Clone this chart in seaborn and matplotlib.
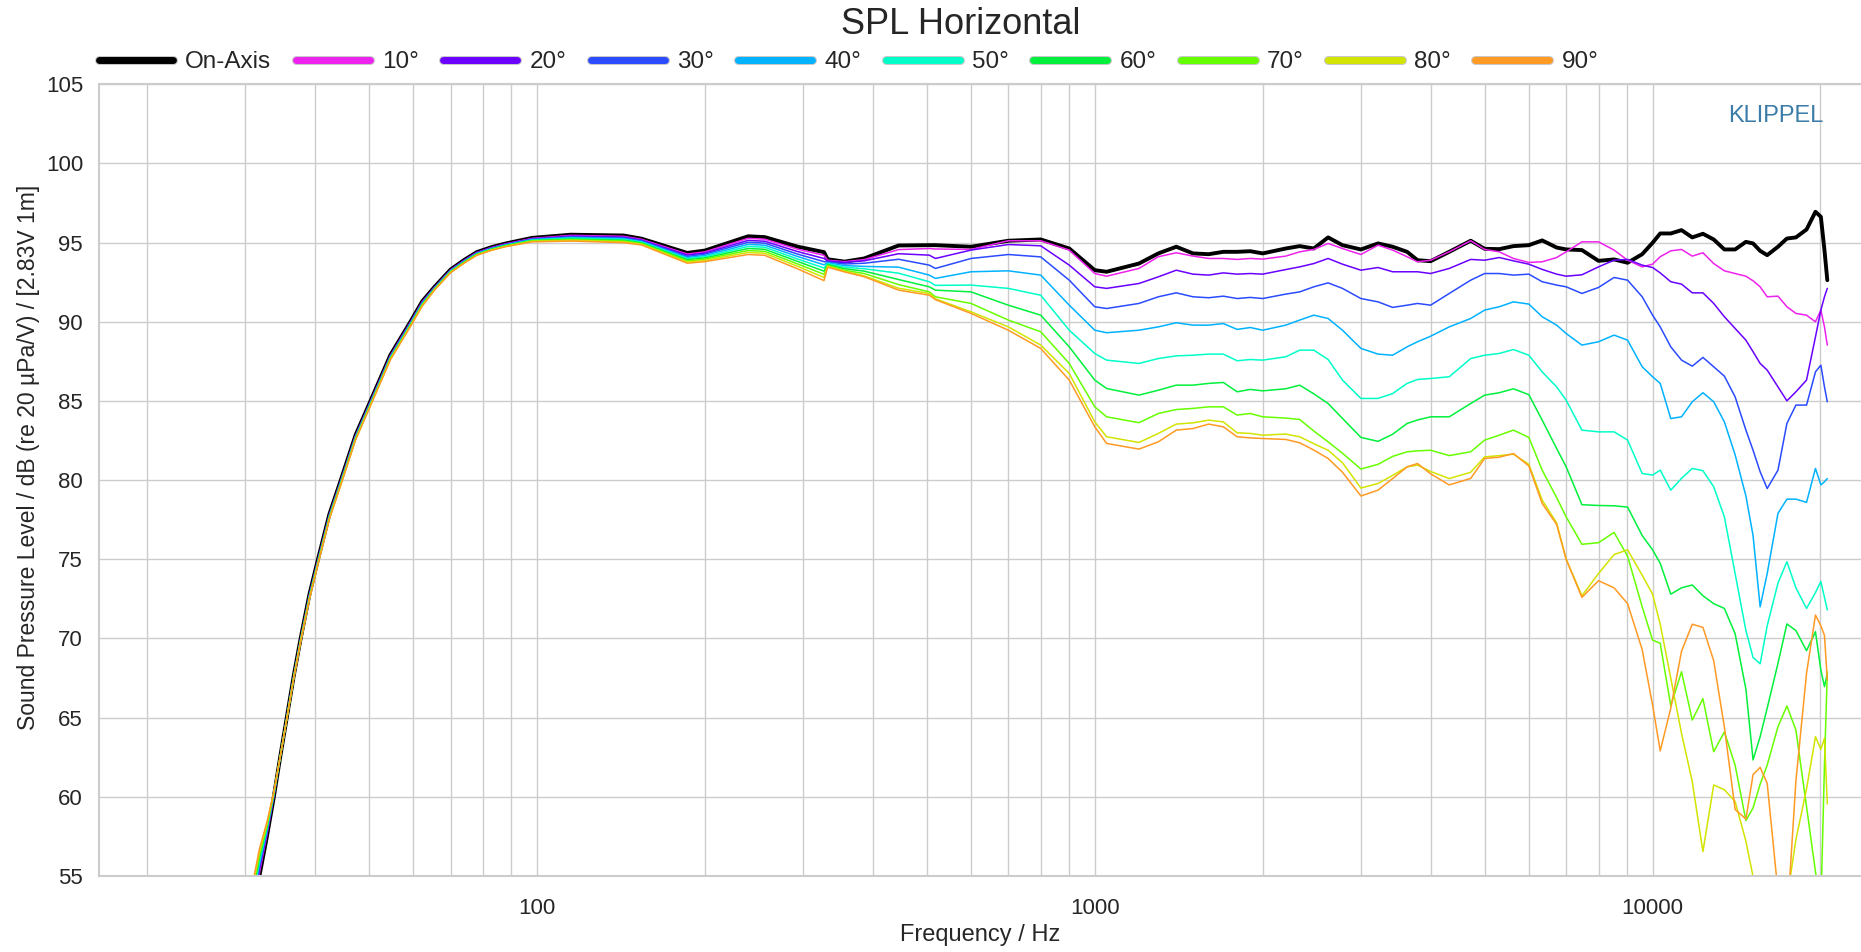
import matplotlib
matplotlib.use("Agg")
import matplotlib.pyplot as plt
import matplotlib.ticker as mticker
import matplotlib.patheffects as pe
from matplotlib.lines import Line2D
import pandas as pd
import seaborn as sns

# frequency grid (Hz), shared by all curves
freq_hz = [
    29, 31.8, 32.8, 33.75, 34.66, 35.6, 36.65, 37.7, 39.1, 40.5, 42.45, 44.5,
    47.3, 50.3, 54.6, 59.3, 62.3, 65.5, 70, 74, 78, 83, 88,
    98, 115, 143, 154, 186, 200, 239, 256, 293, 327, 332, 356, 386, 445,
    505, 518,
    600, 700, 800, 900, 1000, 1050, 1200, 1300, 1400, 1500, 1600, 1700, 1800, 1900, 2000, 2200,
    2330, 2470, 2620, 2780, 3000, 3220, 3420, 3630, 3790, 4000,
    4320, 4720, 5000, 5310, 5630, 6000, 6340, 6730, 7000, 7470,
    8000, 8530, 9020, 9580, 10000, 10320, 10780, 11270, 11780, 12310,
    12870, 13450, 14060, 14700, 15140, 15590, 16050, 16780, 17410, 18070,
    18880, 19590, 20030, 20330, 20570,
]

spl_0 = [
    47.0, 55.0, 57.5, 60.0, 62.55, 65.0, 67.67, 70.0, 72.8, 75.0, 77.85, 80.0,
    82.85, 85.0, 87.9, 90.0, 91.3, 92.2, 93.3, 93.9, 94.4, 94.72, 94.95,
    95.3, 95.5, 95.45, 95.25, 94.35, 94.5, 95.4, 95.35, 94.75, 94.4, 93.95, 93.8, 94.0, 94.82,
    94.84, 94.84,
    94.74, 95.12, 95.2, 94.63, 93.26, 93.16, 93.68, 94.32, 94.74, 94.32, 94.27, 94.42, 94.42, 94.46, 94.32, 94.63,
    94.78, 94.63, 95.33, 94.84, 94.57, 94.95, 94.74, 94.42, 93.89, 93.83,
    94.42, 95.12, 94.61, 94.59, 94.78, 94.84, 95.14, 94.69, 94.57, 94.53,
    93.85, 93.94, 93.73, 94.27, 94.99, 95.58, 95.58, 95.79, 95.33, 95.56,
    95.2, 94.57, 94.57, 95.05, 94.95, 94.48, 94.21, 94.74, 95.26, 95.33,
    95.83, 96.95, 96.63, 94.53, 92.63,
]
spl_10 = [
    47.28, 55.19, 57.6, 60.03, 62.55, 64.99, 67.65, 69.98, 72.77, 74.97, 77.82, 79.97,
    82.82, 84.97, 87.87, 89.97, 91.27, 92.18, 93.28, 93.88, 94.38, 94.7, 94.93,
    95.27, 95.46, 95.4, 95.21, 94.28, 94.42, 95.27, 95.22, 94.59, 94.2, 93.89, 93.8, 93.93, 94.56,
    94.63, 94.6,
    94.57, 95.12, 95.12, 94.53, 93.05, 92.88, 93.37, 94.11, 94.36, 94.15, 94.0, 94.0, 93.94, 94.0, 93.96, 94.15,
    94.42, 94.57, 94.95, 94.63, 94.25, 94.84, 94.53, 94.11, 93.79, 93.89,
    94.42, 95.12, 94.57, 94.42, 94.0, 93.75, 93.79, 94.06, 94.42, 95.05,
    95.05, 94.53, 93.89, 93.47, 93.64, 94.11, 94.48, 94.57, 94.15, 94.36,
    93.68, 93.22, 93.05, 92.88, 92.59, 92.21, 91.58, 91.62, 90.95, 90.53,
    90.42, 90.0, 90.74, 89.68, 88.53,
]
spl_20 = [
    47.56, 55.38, 57.7, 60.07, 62.55, 64.98, 67.64, 69.96, 72.73, 74.93, 77.78, 79.93,
    82.78, 84.93, 87.83, 89.93, 91.23, 92.16, 93.26, 93.86, 94.36, 94.68, 94.91,
    95.24, 95.41, 95.35, 95.16, 94.21, 94.34, 95.14, 95.09, 94.44, 94.0, 93.84, 93.75, 93.85, 94.3,
    94.21, 94.0,
    94.53, 94.88, 94.8, 93.58, 92.21, 92.11, 92.42, 92.84, 93.26, 93.01, 92.95, 93.09, 93.01, 93.05, 93.01, 93.3,
    93.47, 93.68, 94.0, 93.64, 93.26, 93.43, 93.16, 93.16, 93.16, 93.05,
    93.37, 93.94, 93.89, 94.06, 93.85, 93.64, 93.31, 93.01, 92.88, 92.97,
    93.47, 93.89, 93.94, 93.58, 93.43, 93.09, 92.53, 92.38, 91.83, 91.83,
    91.16, 90.32, 89.58, 88.84, 88.11, 87.37, 86.95, 85.89, 85.01, 85.58,
    86.32, 89.05, 90.74, 91.58, 92.11,
]
spl_30 = [
    47.83, 55.57, 57.8, 60.1, 62.55, 64.97, 67.62, 69.93, 72.7, 74.9, 77.75, 79.9,
    82.75, 84.9, 87.8, 89.9, 91.2, 92.13, 93.23, 93.83, 94.33, 94.65, 94.88,
    95.22, 95.37, 95.3, 95.12, 94.13, 94.27, 95.02, 94.97, 94.28, 93.8, 93.78, 93.65, 93.7, 93.95,
    93.58, 93.37,
    94.0, 94.25, 94.1, 92.63, 90.95, 90.84, 91.16, 91.58, 91.83, 91.58, 91.52, 91.62, 91.47, 91.54, 91.47, 91.75,
    91.89, 92.21, 92.46, 92.11, 91.47, 91.26, 90.91, 91.05, 91.16, 91.05,
    91.79, 92.63, 93.05, 93.05, 92.95, 93.01, 92.53, 92.32, 92.21, 91.79,
    92.17, 92.8, 92.63, 91.58, 90.42, 89.68, 88.42, 87.58, 87.2, 87.75,
    87.16, 86.57, 85.26, 83.16, 81.89, 80.53, 79.47, 80.63, 83.58, 84.74,
    84.74, 86.84, 87.26, 85.89, 84.95,
]
spl_40 = [
    48.11, 55.76, 57.9, 60.13, 62.55, 64.96, 67.6, 69.91, 72.67, 74.87, 77.72, 79.87,
    82.72, 84.87, 87.77, 89.87, 91.17, 92.11, 93.21, 93.81, 94.31, 94.63, 94.86,
    95.19, 95.32, 95.25, 95.07, 94.06, 94.19, 94.89, 94.84, 94.13, 93.6, 93.73, 93.55, 93.5, 93.45,
    92.95, 92.74,
    93.16, 93.22, 92.95, 91.05, 89.47, 89.31, 89.47, 89.68, 89.94, 89.79, 89.79, 89.89, 89.52, 89.64, 89.47, 89.79,
    90.11, 90.42, 90.21, 89.47, 88.32, 87.96, 87.89, 88.42, 88.74, 89.09,
    89.68, 90.21, 90.74, 90.95, 91.26, 91.12, 90.32, 89.79, 89.26, 88.53,
    88.74, 89.16, 88.84, 87.16, 86.53, 86.11, 83.89, 84.0, 84.95, 85.52,
    84.95, 83.68, 81.6, 79.0, 76.5, 72.0, 74.1, 77.9, 78.8, 78.8,
    78.6, 80.74, 79.7, 79.9, 80.1,
]
spl_50 = [
    48.39, 55.95, 58.0, 60.17, 62.55, 64.95, 67.59, 69.89, 72.63, 74.83, 77.68, 79.83,
    82.68, 84.83, 87.73, 89.83, 91.13, 92.09, 93.19, 93.79, 94.29, 94.61, 94.84,
    95.16, 95.28, 95.2, 95.03, 93.99, 94.11, 94.76, 94.71, 93.97, 93.4, 93.67, 93.45, 93.35, 93.07,
    92.53, 92.3,
    92.32, 92.11, 91.68, 89.47, 88.0, 87.58, 87.37, 87.68, 87.85, 87.89, 87.96, 87.96, 87.54, 87.62, 87.58, 87.79,
    88.21, 88.21, 87.62, 86.32, 85.16, 85.16, 85.47, 86.11, 86.36, 86.42,
    86.53, 87.68, 87.89, 88.0, 88.25, 87.89, 86.84, 85.89, 85.05, 83.16,
    83.05, 83.05, 82.53, 80.42, 80.32, 80.63, 79.37, 80.11, 80.74, 80.6,
    79.58, 77.68, 74.1, 70.5, 68.8, 68.4, 70.8, 73.5, 74.85, 73.2,
    71.9, 72.9, 73.6, 72.6, 71.8,
]
spl_60 = [
    48.67, 56.14, 58.1, 60.2, 62.55, 64.93, 67.57, 69.87, 72.6, 74.8, 77.65, 79.8,
    82.65, 84.8, 87.7, 89.8, 91.1, 92.07, 93.17, 93.77, 94.27, 94.59, 94.82,
    95.13, 95.23, 95.15, 94.98, 93.92, 94.03, 94.63, 94.58, 93.82, 93.2, 93.62, 93.35, 93.2, 92.67,
    92.21, 92.0,
    91.89, 91.05, 90.42, 88.42, 86.32, 85.79, 85.37, 85.68, 86.0, 86.0, 86.11, 86.17, 85.58, 85.73, 85.64, 85.77,
    86.0, 85.45, 84.84, 83.9, 82.7, 82.45, 82.9, 83.58, 83.8, 84.0,
    84.0, 84.84, 85.37, 85.52, 85.77, 85.4, 83.79, 82.0, 80.84, 78.45,
    78.4, 78.38, 78.3, 76.5, 75.6, 74.75, 72.8, 73.2, 73.38, 72.7,
    72.2, 71.9, 70.3, 66.8, 62.33, 63.8, 65.6, 68.43, 70.92, 70.5,
    69.23, 70.43, 68.0, 66.96, 67.8,
]
spl_70 = [
    48.95, 56.33, 58.2, 60.23, 62.55, 64.92, 67.55, 69.85, 72.57, 74.77, 77.62, 79.77,
    82.62, 84.77, 87.67, 89.77, 91.07, 92.04, 93.14, 93.74, 94.24, 94.56, 94.79,
    95.11, 95.19, 95.1, 94.94, 93.85, 93.96, 94.5, 94.45, 93.66, 93.0, 93.56, 93.25, 93.05, 92.35,
    91.89, 91.58,
    91.16, 90.11, 89.37, 87.37, 84.63, 84.0, 83.63, 84.21, 84.46, 84.53, 84.63, 84.63, 84.11, 84.21, 84.0, 83.92,
    83.83, 83.1, 82.42, 81.7, 80.7, 81.0, 81.5, 81.79, 81.85, 81.89,
    81.55, 81.79, 82.53, 82.84, 83.16, 82.7, 80.63, 78.9, 77.68, 75.95,
    76.05, 76.7, 75.2, 72.0, 69.9, 69.7, 65.75, 67.9, 64.85, 66.2,
    62.85, 64.1, 62.0, 58.5, 59.3, 60.8, 62.0, 64.43, 65.74, 64.22,
    59.38, 55.27, 53.0, 62.0, 67.9,
]
spl_80 = [
    49.22, 56.52, 58.3, 60.27, 62.55, 64.91, 67.53, 69.82, 72.53, 74.73, 77.58, 79.73,
    82.58, 84.73, 87.63, 89.73, 91.03, 92.02, 93.12, 93.72, 94.22, 94.54, 94.77,
    95.08, 95.14, 95.05, 94.89, 93.77, 93.88, 94.38, 94.33, 93.51, 92.8, 93.51, 93.2, 92.9, 92.12,
    91.79, 91.45,
    90.63, 89.68, 88.53, 86.74, 83.68, 82.74, 82.38, 82.95, 83.54, 83.62, 83.79, 83.68, 82.99, 82.95, 82.84, 82.91,
    82.74, 82.3, 81.89, 81.1, 79.5, 79.79, 80.3, 80.84, 80.95, 80.55,
    80.1, 80.5, 81.47, 81.55, 81.64, 81.0, 78.74, 77.3, 75.0, 72.7,
    74.1, 75.3, 75.6, 74.0, 72.8, 70.9, 67.5, 64.0, 60.96, 56.54,
    60.75, 60.45, 59.7, 57.2, 54.96, 52.5, 51.0, 51.5, 53.5, 57.3,
    60.5, 63.8, 63.0, 63.7, 59.55,
]
spl_90 = [
    49.5, 56.71, 58.4, 60.3, 62.55, 64.9, 67.52, 69.8, 72.5, 74.7, 77.55, 79.7,
    82.55, 84.7, 87.6, 89.7, 91.0, 92.0, 93.1, 93.7, 94.2, 94.52, 94.75,
    95.05, 95.1, 95.0, 94.85, 93.7, 93.8, 94.25, 94.2, 93.35, 92.6, 93.45, 93.15, 92.85, 92.0,
    91.68, 91.4,
    90.53, 89.47, 88.32, 86.32, 83.37, 82.32, 81.96, 82.42, 83.16, 83.26, 83.54, 83.37, 82.74, 82.67, 82.63, 82.57,
    82.36, 81.9, 81.37, 80.5, 79.0, 79.37, 80.1, 80.84, 81.05, 80.4,
    79.7, 80.11, 81.37, 81.45, 81.68, 80.9, 78.53, 77.2, 75.0, 72.6,
    73.65, 73.2, 72.2, 69.3, 65.8, 62.9, 65.6, 69.2, 70.9, 70.7,
    68.6, 64.4, 59.2, 58.6, 61.4, 61.86, 60.85, 54.0, 52.0, 61.0,
    67.8, 71.48, 70.8, 70.2, 67.38,
]

angles = ["On-Axis", "10°", "20°", "30°", "40°", "50°", "60°", "70°", "80°", "90°"]
colors = ["#000000", "#ee22ee", "#6a00ff", "#2a4bff", "#00b2ff",
          "#00ffc8", "#00f03c", "#66ff00", "#d2e400", "#ff9a24"]
x_ticks = [100, 1000, 10000]
x_tick_labels = ["100", "1000", "10000"]

sns.set_theme(style="white")
plt.rcParams["font.family"] = ["Liberation Sans", "DejaVu Sans"]

curves = [spl_0, spl_10, spl_20, spl_30, spl_40, spl_50, spl_60, spl_70, spl_80, spl_90]
df = pd.concat(
    [pd.DataFrame({"freq": freq_hz, "spl": v, "angle": a}) for a, v in zip(angles, curves)],
    ignore_index=True,
)

palette = dict(zip(angles, colors))
widths = {a: (2.8 if a == "On-Axis" else 1.1) for a in angles}

W, H = 1861, 952
fig = plt.figure(figsize=(W / 100, H / 100), dpi=100)
ax = fig.add_axes([99 / W, 1 - 876 / H, 1 - 99 / W, (876 - 84.3) / H])

# on-axis first, the off-axis curves are drawn over it
sns.lineplot(data=df, x="freq", y="spl", hue="angle", hue_order=angles,
             palette=palette, size="angle", sizes=widths, estimator=None,
             sort=False, legend=False, ax=ax)

ax.set_xscale("log")
ax.set_xlim(16.4, 23640)
ax.set_ylim(55, 105)

ax.xaxis.set_major_locator(mticker.FixedLocator(x_ticks))
ax.xaxis.set_major_formatter(mticker.FixedFormatter(x_tick_labels))
ax.xaxis.set_minor_locator(mticker.LogLocator(base=10, subs=range(2, 10), numticks=30))
ax.xaxis.set_minor_formatter(mticker.NullFormatter())
ax.yaxis.set_major_locator(mticker.MultipleLocator(5))
ax.yaxis.set_minor_locator(mticker.MultipleLocator(1))

grid_c = "#cccccc"
ax.grid(which="both", axis="x", color=grid_c, lw=1.0)
ax.grid(which="major", axis="y", color=grid_c, lw=1.0)
ax.tick_params(axis="x", which="major", direction="out", length=11, width=1,
               color=grid_c, labelsize=16, pad=5)
ax.tick_params(axis="x", which="minor", length=0)
ax.tick_params(axis="y", which="major", direction="out", length=8.5, width=1,
               color=grid_c, labelsize=16, pad=3)
ax.tick_params(axis="y", which="minor", direction="in", length=8, width=1, color=grid_c)

for side in ["top", "left", "bottom"]:
    ax.spines[side].set_color(grid_c)
    ax.spines[side].set_linewidth(1.5)
ax.spines["right"].set_visible(False)

ax.set_xlabel("Frequency / Hz", fontsize=17)
ax.xaxis.set_label_coords(0.5, (876 - 924) / (876 - 84.3))
ax.set_ylabel("Sound Pressure Level / dB (re 20 µPa/V) / [2.83V 1m]", fontsize=16.5,
              va="center", ha="center")
ax.yaxis.set_label_coords((29 - 99) / (W - 99), (876 - 457) / (876 - 84.3))

fig.text(961 / W, 1 - 25 / H, "SPL Horizontal", ha="center", va="center", fontsize=26)
fig.text(1823 / W, 1 - 116 / H, "KLIPPEL", ha="right", va="center",
         fontsize=17, color="#3b7ca8")

handles = [
    Line2D([], [], color=c, lw=5,
           path_effects=[pe.Stroke(linewidth=6.5, foreground="#c8c8c8"), pe.Normal()])
    for c in colors
]
fig.legend(handles, angles, loc="center left", bbox_to_anchor=(99 / W, 1 - 62 / H),
           ncol=len(angles), frameon=False, fontsize=17.5, borderpad=0, borderaxespad=0,
           handlelength=3.05, handletextpad=0.5, columnspacing=1.0)

fig.savefig("out.png", dpi=100)
